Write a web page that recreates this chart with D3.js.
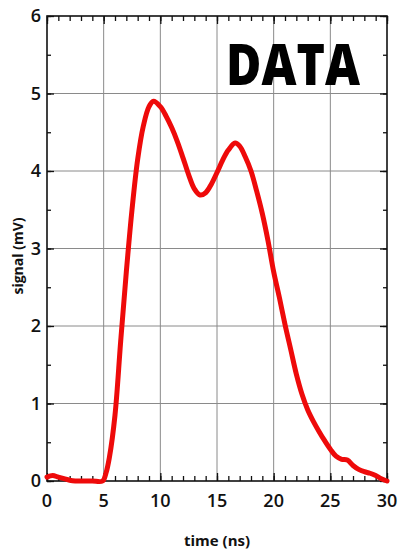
<!DOCTYPE html>
<html>
<head>
<meta charset="utf-8">
<script src="https://cdn.jsdelivr.net/npm/d3@7"></script>
<style>
  html, body { margin: 0; padding: 0; background: #fff; }
  svg { display: block; }
  text { font-family: "Open Sans", "Noto Sans", sans-serif; }
</style>
</head>
<body>
<svg id="chart" width="398" height="554"></svg>
<script>
// Time axis (ns) and measured signal (mV)
const time = [0, 0.5, 1, 1.5, 2, 2.5, 3, 4, 4.9, 5.2, 5.5, 6, 6.5, 7, 7.5, 8, 8.5, 9, 9.4,
  10, 10.5, 11, 11.5, 12, 12.5, 13, 13.5, 14, 14.5, 15, 15.5, 16, 16.6, 17, 17.5, 18, 18.5,
  19, 19.5, 20, 20.5, 21, 21.5, 22, 22.5, 23, 23.5, 24, 24.5, 25, 25.5, 26, 26.5, 27, 27.5,
  28, 28.5, 29, 29.5, 30];
const signal = [0.05, 0.07, 0.05, 0.03, 0.01, 0, 0, 0, 0, 0.1, 0.3, 0.85, 1.8, 2.7, 3.5, 4.15, 4.58, 4.83, 4.9,
  4.83, 4.71, 4.56, 4.38, 4.17, 3.95, 3.77, 3.69, 3.72, 3.83, 3.98, 4.14, 4.27, 4.36, 4.32, 4.18, 4.0, 3.74,
  3.45, 3.1, 2.7, 2.37, 2.02, 1.7, 1.38, 1.12, 0.92, 0.77, 0.64, 0.52, 0.41, 0.32, 0.28, 0.27, 0.2, 0.15,
  0.12, 0.1, 0.07, 0.03, 0];

const xMajorTicks = [0, 5, 10, 15, 20, 25, 30];
const yMajorTicks = [0, 1, 2, 3, 4, 5, 6];
const xMinorTicks = d3.range(0, 31, 1);
const yMinorTicks = d3.range(0, 6.01, 0.5);

const xLabel = "time (ns)";
const yLabel = "signal (mV)";
const panelTitle = "DATA";

const svg = d3.select("#chart");
const plotL = 47, plotR = 387, plotT = 16, plotB = 481;

const x = d3.scaleLinear().domain([0, 30]).range([plotL, plotR]);
const y = d3.scaleLinear().domain([0, 6]).range([plotB, plotT]);

// grid lines at major ticks
const grid = svg.append("g").attr("stroke", "#8a8a8a").attr("stroke-width", 1);
grid.selectAll("line.gx").data(xMajorTicks.slice(1, -1)).join("line")
  .attr("x1", d => x(d)).attr("x2", d => x(d))
  .attr("y1", plotT).attr("y2", plotB);
grid.selectAll("line.gy").data(yMajorTicks.slice(1, -1)).join("line")
  .attr("y1", d => y(d)).attr("y2", d => y(d))
  .attr("x1", plotL).attr("x2", plotR);

// inward-pointing ticks on all four sides
function addAxis(gen, tx, ty, values, size) {
  const g = svg.append("g").attr("transform", `translate(${tx},${ty})`)
    .call(gen.tickValues(values).tickSize(size).tickFormat(""));
  g.select(".domain").remove();
  g.selectAll(".tick line").attr("stroke", "#111").attr("stroke-width", 1.3);
  return g;
}
addAxis(d3.axisTop(x), 0, plotB, xMinorTicks, 5);
addAxis(d3.axisTop(x), 0, plotB, xMajorTicks, 8);
addAxis(d3.axisBottom(x), 0, plotT, xMinorTicks, 5);
addAxis(d3.axisBottom(x), 0, plotT, xMajorTicks, 8);
addAxis(d3.axisRight(y), plotL, 0, yMinorTicks, 4);
addAxis(d3.axisRight(y), plotL, 0, yMajorTicks, 7);
addAxis(d3.axisLeft(y), plotR, 0, yMinorTicks, 4);
addAxis(d3.axisLeft(y), plotR, 0, yMajorTicks, 7);

// frame
svg.append("rect")
  .attr("x", plotL).attr("y", plotT)
  .attr("width", plotR - plotL).attr("height", plotB - plotT)
  .attr("fill", "none").attr("stroke", "#111").attr("stroke-width", 1.6);

// tick labels
svg.append("g").selectAll("text").data(xMajorTicks).join("text")
  .attr("x", d => x(d)).attr("y", plotB + 26)
  .attr("text-anchor", "middle")
  .attr("font-size", 18).attr("font-weight", 600).attr("fill", "#111")
  .text(d => d);
svg.append("g").selectAll("text").data(yMajorTicks).join("text")
  .attr("x", plotL - 6).attr("y", d => y(d)).attr("dy", "0.36em")
  .attr("text-anchor", "end")
  .attr("font-size", 18).attr("font-weight", 600).attr("fill", "#111")
  .text(d => d);

// axis titles
svg.append("text")
  .attr("x", 217).attr("y", 546)
  .attr("text-anchor", "middle")
  .attr("font-size", 15).attr("font-weight", 700).attr("fill", "#111")
  .text(xLabel);
svg.append("text")
  .attr("transform", "translate(23,256) rotate(-90)")
  .attr("text-anchor", "middle")
  .attr("font-size", 14).attr("font-weight", 700).attr("fill", "#111")
  .text(yLabel);

// signal curve
const pts = time.map((t, i) => [t, signal[i]]);
svg.append("path")
  .datum(pts)
  .attr("fill", "none")
  .attr("stroke", "#ee0a0a")
  .attr("stroke-width", 5)
  .attr("stroke-linejoin", "round")
  .attr("stroke-linecap", "round")
  .attr("d", d3.line().x(d => x(d[0])).y(d => y(d[1])).curve(d3.curveCatmullRom.alpha(0.5)));

// panel title
svg.append("text")
  .attr("x", 226).attr("y", 85)
  .attr("font-size", 56).attr("font-weight", 800).attr("fill", "#000")
  .attr("textLength", 134).attr("lengthAdjust", "spacingAndGlyphs")
  .text(panelTitle);
</script>
</body>
</html>
